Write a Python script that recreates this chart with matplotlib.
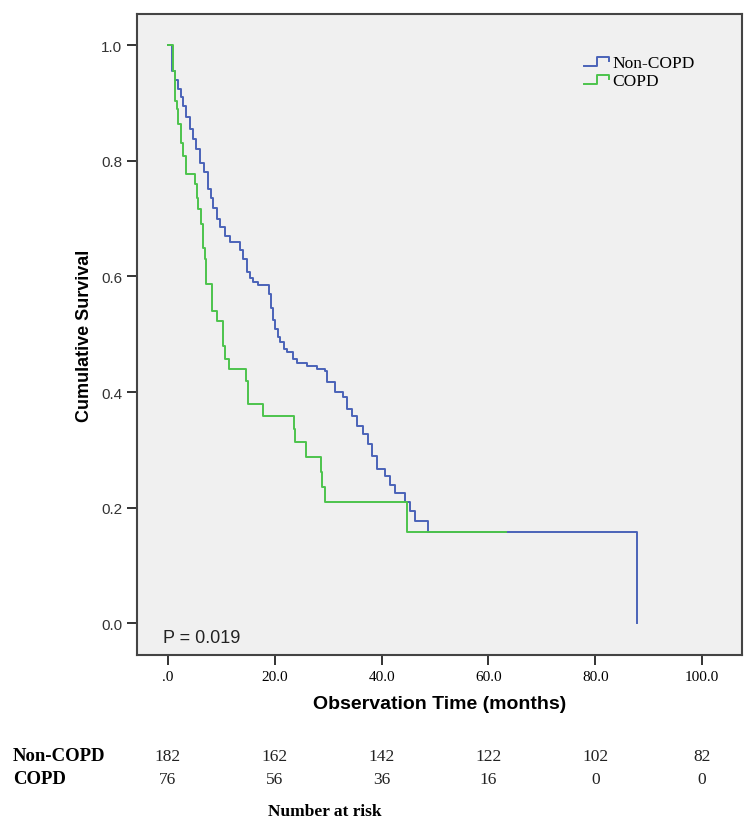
import numpy as np
import matplotlib
matplotlib.use("Agg")
import matplotlib.pyplot as plt
from matplotlib.lines import Line2D
from matplotlib.legend_handler import HandlerBase
import matplotlib.transforms as mtransforms

# Kaplan-Meier steps (months, cumulative survival)
noncopd_t = [0, 0.75, 1.3, 1.9, 2.4, 2.8, 3.4, 4.1, 4.7, 5.2, 6.0, 6.7, 7.5, 8.1, 8.4,
             9.2, 9.7, 10.7, 11.6, 13.5, 14.0, 14.8, 15.4, 15.9, 16.9, 18.9, 19.3, 19.7,
             20.0, 20.6, 21.0, 21.7, 22.3, 23.4, 24.2, 26.0, 27.9, 29.4, 29.8, 31.3, 32.8,
             33.5, 34.5, 35.4, 36.5, 37.5, 38.2, 39.1, 40.6, 41.6, 42.5, 44.4, 45.3, 46.3,
             48.7, 87.9]
noncopd_s = [1.0, 0.955, 0.94, 0.924, 0.91, 0.894, 0.875, 0.855, 0.838, 0.82, 0.797, 0.78,
             0.751, 0.735, 0.718, 0.70, 0.685, 0.67, 0.659, 0.645, 0.63, 0.607, 0.598, 0.59,
             0.585, 0.57, 0.545, 0.525, 0.509, 0.495, 0.486, 0.475, 0.47, 0.457, 0.45, 0.445,
             0.44, 0.436, 0.417, 0.40, 0.391, 0.37, 0.358, 0.341, 0.327, 0.31, 0.289, 0.266,
             0.254, 0.24, 0.226, 0.209, 0.194, 0.176, 0.157, 0.0]

copd_t = [0, 0.94, 1.3, 1.6, 1.9, 2.4, 2.8, 3.4, 5.1, 5.4, 5.6, 6.2, 6.6, 6.9, 7.1, 8.2,
          9.2, 10.3, 10.7, 11.4, 14.6, 15.0, 17.8, 23.6, 23.8, 25.8, 28.7, 28.8, 29.4,
          44.8, 63.3]
copd_s = [1.0, 0.955, 0.903, 0.89, 0.863, 0.83, 0.808, 0.777, 0.76, 0.735, 0.716, 0.69,
          0.65, 0.63, 0.587, 0.54, 0.522, 0.48, 0.457, 0.44, 0.419, 0.379, 0.358, 0.336,
          0.313, 0.287, 0.261, 0.235, 0.209, 0.157, 0.157]

# number at risk table
risk_times = [0, 20, 40, 60, 80, 100]
risk_noncopd = [182, 162, 142, 122, 102, 82]
risk_copd = [76, 56, 36, 16, 0, 0]

blue = "#4a63b8"
green = "#4cc34c"


# legend glyph drawn as a little step, like SPSS does
class StepHandler(HandlerBase):
    def create_artists(self, legend, orig_handle, xdescent, ydescent,
                       width, height, fontsize, trans):
        y0 = -ydescent + height * 0.1
        y1 = -ydescent + height * 0.8
        x0 = -xdescent
        xs = [x0, x0 + width * 0.5, x0 + width * 0.5, x0 + width * 0.93, x0 + width * 0.93]
        ys = [y0, y0, y1, y1, y1 - height * 0.3]
        ln = Line2D(xs, ys, color=orig_handle.get_color(), lw=1.4)
        ln.set_transform(trans)
        return [ln]


fig = plt.figure(figsize=(7.5, 8.28), dpi=100)
ax = fig.add_axes([0.1827, 0.2077, 0.8067, 0.7742])
ax.set_facecolor("#f0f0f0")

h1, = ax.step(noncopd_t, noncopd_s, where="post", color=blue, lw=1.4, label="Non-COPD")
h2, = ax.step(copd_t, copd_s, where="post", color=green, lw=1.4, label="COPD")

ax.set_xlim(-5.8, 107.5)
ax.set_ylim(-0.055, 1.054)
ax.set_xticks(risk_times)
ax.set_xticklabels([".0", "20.0", "40.0", "60.0", "80.0", "100.0"],
                   family="Liberation Serif", fontsize=11)
ax.set_yticks([0, 0.2, 0.4, 0.6, 0.8, 1.0])
ax.set_yticklabels(["0.0", "0.2", "0.4", "0.6", "0.8", "1.0"],
                   family="Liberation Sans", fontsize=11, color="#333333")
ax.tick_params(axis="both", direction="out", length=7, width=1.4, color="#333333")
ax.tick_params(axis="x", pad=4)
for sp in ax.spines.values():
    sp.set_color("#444444")
    sp.set_linewidth(1.5)

ax.set_ylabel("Cumulative Survival", family="Liberation Sans", fontweight="bold", fontsize=13)
ax.yaxis.set_label_coords(-0.072, 0.5)
ax.set_xlabel("Observation Time (months)", family="Liberation Sans", fontweight="bold", fontsize=14)
ax.xaxis.set_label_coords(0.5, -0.062)

ax.text(0.043, 0.014, "P = 0.019", transform=ax.transAxes, family="Liberation Sans",
        fontsize=13, color="#222222", ha="left", va="bottom")

leg = ax.legend(handles=[h1, h2], loc="upper left", bbox_to_anchor=(0.738, 0.936),
                frameon=False, handler_map={Line2D: StepHandler()},
                handlelength=1.6, handletextpad=0.05, labelspacing=0.1, borderpad=0,
                prop={"family": "Liberation Serif", "size": 12.5}, borderaxespad=0)

# number at risk rows, tied to the x scale of the plot
tr = mtransforms.blended_transform_factory(ax.transData, fig.transFigure)
row_y = [1 - 757 / 828, 1 - 780 / 828]
fig.text(13 / 750, row_y[0], "Non-COPD", family="Liberation Serif", fontweight="bold",
         fontsize=13.5, va="center")
fig.text(13 / 750, row_y[1], "COPD", family="Liberation Serif", fontweight="bold",
         fontsize=13.5, va="center")
for t, a, b in zip(risk_times, risk_noncopd, risk_copd):
    fig.text(t, row_y[0], str(a), transform=tr, family="Liberation Serif", fontsize=12.5,
             ha="center", va="center", color="#222222")
    fig.text(t, row_y[1], str(b), transform=tr, family="Liberation Serif", fontsize=12.5,
             ha="center", va="center", color="#222222")
fig.text(325 / 750, 1 - 812 / 828, "Number at risk", family="Liberation Serif",
         fontweight="bold", fontsize=12.5, ha="center", va="center")

fig.savefig("out.png", dpi=100, facecolor="white")
